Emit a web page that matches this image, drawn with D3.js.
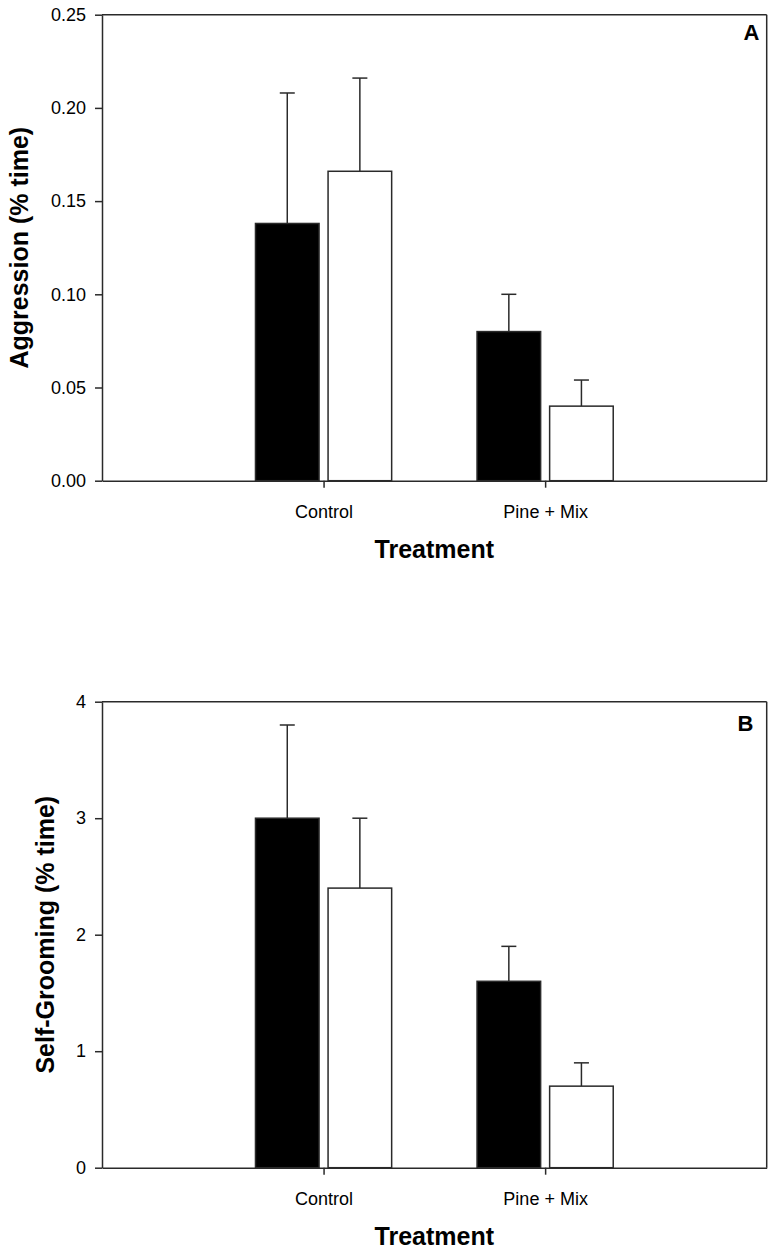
<!DOCTYPE html>
<html>
<head>
<meta charset="utf-8">
<script src="https://cdn.jsdelivr.net/npm/d3@7"></script>
<style>
  html, body { margin: 0; padding: 0; background: #fff; }
  svg { display: block; }
  text { font-family: "Liberation Sans", Arial, sans-serif; fill: #000; }
</style>
</head>
<body>
<svg id="chart" width="783" height="1260"></svg>
<script>
// ---------- data ----------
const categories = ["Control", "Pine + Mix"];
const seriesNames = ["Group 1", "Group 2"]; // black, white
// Panel A: Aggression (% time)
const aggressionMeans = [[0.138, 0.166], [0.080, 0.040]];
const aggressionErr   = [[0.070, 0.050], [0.020, 0.014]];
const aggressionTicks = [0.00, 0.05, 0.10, 0.15, 0.20, 0.25];
// Panel B: Self-Grooming (% time)
const groomingMeans = [[3.0, 2.4], [1.6, 0.7]];
const groomingErr   = [[0.8, 0.6], [0.3, 0.2]];
const groomingTicks = [0, 1, 2, 3, 4];

const panels = [
  { letter: "A", yLabel: "Aggression (% time)", means: aggressionMeans, err: aggressionErr,
    ticks: aggressionTicks, fmt: d3.format(".2f"), yMax: 0.25,
    top: 14.7, bottom: 480.7, yLabelX: 28, letterX: 759.5, letterY: 40 },
  { letter: "B", yLabel: "Self-Grooming (% time)", means: groomingMeans, err: groomingErr,
    ticks: groomingTicks, fmt: d3.format("d"), yMax: 4,
    top: 701.7, bottom: 1167.7, yLabelX: 53.5, letterX: 753.5, letterY: 730.7 }
];

const svg = d3.select("#chart");
const left = 102, right = 766.7;
const stroke = "#2a2a2a";
const fills = ["#000", "#fff"];

panels.forEach(p => {
  const g = svg.append("g");
  const x = d3.scaleLinear().domain([0, 3]).range([left, right]);
  const y = d3.scaleLinear().domain([0, p.yMax]).range([p.bottom, p.top]);
  const unit = x(1) - x(0);
  const barW = unit * 0.287;
  const gap = 4.5;

  // frame (top and right)
  g.append("line").attr("x1", left).attr("x2", right).attr("y1", y(p.yMax)).attr("y2", y(p.yMax))
    .attr("stroke", stroke).attr("stroke-width", 1.5);
  g.append("line").attr("x1", right).attr("x2", right).attr("y1", y(p.yMax)).attr("y2", y(0))
    .attr("stroke", stroke).attr("stroke-width", 1.5);

  // bars
  categories.forEach((c, ci) => {
    const cx = x(ci + 1);
    seriesNames.forEach((s, si) => {
      const v = p.means[ci][si];
      const e = p.err[ci][si];
      const bx = si === 0 ? cx - gap - barW : cx + gap;
      const mid = bx + barW / 2;
      g.append("line").attr("x1", mid).attr("x2", mid).attr("y1", y(v)).attr("y2", y(v + e))
        .attr("stroke", stroke).attr("stroke-width", 1.5);
      g.append("line").attr("x1", mid - 7.5).attr("x2", mid + 7.5).attr("y1", y(v + e)).attr("y2", y(v + e))
        .attr("stroke", stroke).attr("stroke-width", 1.5);
      g.append("rect").attr("x", bx).attr("y", y(v)).attr("width", barW).attr("height", y(0) - y(v))
        .attr("fill", fills[si]).attr("stroke", stroke).attr("stroke-width", 1.5);
    });
  });

  // y axis
  const yAxis = d3.axisLeft(y).tickValues(p.ticks).tickFormat(p.fmt).tickSize(7).tickPadding(9).tickSizeOuter(0);
  const ya = g.append("g").attr("transform", `translate(${left},0)`).call(yAxis);
  ya.selectAll("path, line").attr("stroke", stroke).attr("stroke-width", 1.5);
  ya.selectAll("text").style("font-size", "18px").style("font-family", "Liberation Sans, Arial, sans-serif").attr("fill", "#000");

  // x axis
  const xAxis = d3.axisBottom(x).tickValues([1, 2]).tickFormat(d => categories[d - 1]).tickSize(7).tickPadding(18).tickSizeOuter(0);
  const xa = g.append("g").attr("transform", `translate(0,${p.bottom})`).call(xAxis);
  xa.selectAll("path, line").attr("stroke", stroke).attr("stroke-width", 1.5);
  xa.selectAll("text").style("font-size", "18px").style("font-family", "Liberation Sans, Arial, sans-serif").attr("fill", "#000");

  // axis titles
  g.append("text").attr("x", (left + right) / 2).attr("y", p.bottom + 77.5)
    .attr("text-anchor", "middle").style("font-size", "25px").style("font-weight", "bold").text("Treatment");
  g.append("text").attr("transform", `translate(${p.yLabelX},${(p.top + p.bottom) / 2}) rotate(-90)`)
    .attr("text-anchor", "middle").style("font-size", "25px").style("font-weight", "bold").text(p.yLabel);

  // panel letter
  g.append("text").attr("x", p.letterX).attr("y", p.letterY).attr("text-anchor", "end")
    .style("font-size", "22px").style("font-weight", "bold").text(p.letter);
});
</script>
</body>
</html>
